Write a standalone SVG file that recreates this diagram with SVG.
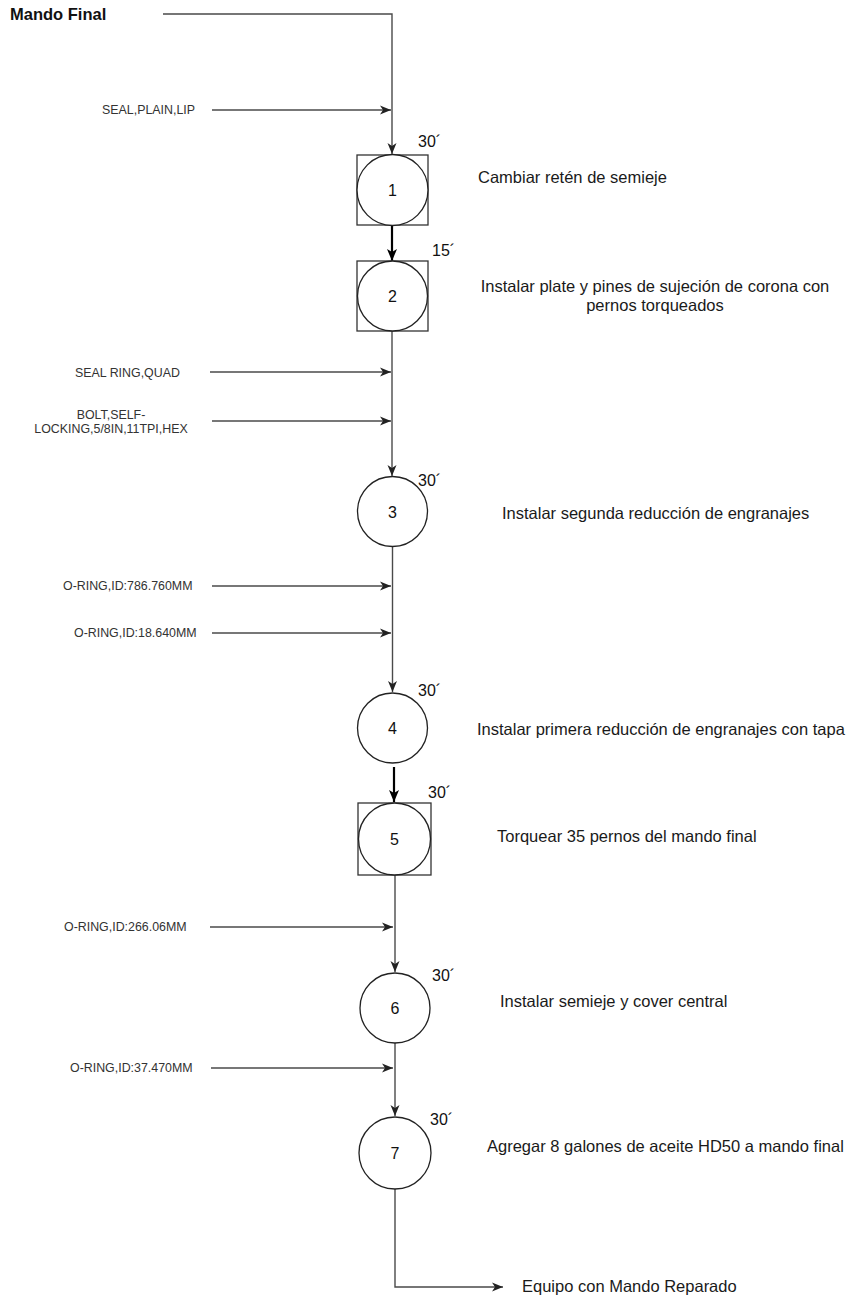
<svg xmlns="http://www.w3.org/2000/svg" width="857" height="1301" viewBox="0 0 857 1301">
  <style>
    .flow { fill: none; stroke: #4a4a4a; stroke-width: 1.4; }
    .flow-strong { fill: none; stroke: #000; stroke-width: 2.2; }
    .shape { fill: #fff; stroke: #222; stroke-width: 1.3; }
    .box { fill: #fff; stroke: #333; stroke-width: 1.3; }
    .num { font-family: "Liberation Sans", Arial, sans-serif; font-size: 16px; fill: #111; text-anchor: middle; }
    .time { font-family: "Liberation Sans", Arial, sans-serif; font-size: 16px; fill: #111; }
    .step { font-family: "Liberation Sans", Arial, sans-serif; font-size: 16.5px; fill: #1a1a1a; }
    .part { font-family: "Liberation Sans", Arial, sans-serif; font-size: 12.4px; fill: #333; }
    .title { font-family: "Liberation Sans", Arial, sans-serif; font-size: 16.5px; font-weight: bold; fill: #111; }
  </style>
  <defs>
    <marker id="arrow" markerUnits="userSpaceOnUse" markerWidth="12" markerHeight="10" refX="11" refY="5" orient="auto">
      <path d="M0,0.5 L11,5 L0,9.5 L3,5 Z" fill="#222"/>
    </marker>
    <marker id="arrow-strong" markerUnits="userSpaceOnUse" markerWidth="13" markerHeight="11" refX="12" refY="5.5" orient="auto">
      <path d="M0,0.5 L12,5.5 L0,10.5 L3,5.5 Z" fill="#000"/>
    </marker>
  </defs>

  <rect width="857" height="1301" fill="#fff"/>

  <!-- connectors -->
  <g id="connectors">
    <path class="flow" d="M163,14 H392 V154" marker-end="url(#arrow)"/>
    <path class="flow" d="M212,110 H391" marker-end="url(#arrow)"/>
    <path class="flow-strong" d="M392,225 V261" marker-end="url(#arrow-strong)"/>
    <path class="flow" d="M392,331 V476" marker-end="url(#arrow)"/>
    <path class="flow" d="M210,372 H391" marker-end="url(#arrow)"/>
    <path class="flow" d="M212,421 H391" marker-end="url(#arrow)"/>
    <path class="flow" d="M392.5,547 V692" marker-end="url(#arrow)"/>
    <path class="flow" d="M212,586 H391" marker-end="url(#arrow)"/>
    <path class="flow" d="M212,633 H391" marker-end="url(#arrow)"/>
    <path class="flow-strong" d="M394,767 V802" marker-end="url(#arrow-strong)"/>
    <path class="flow" d="M395,875 V972" marker-end="url(#arrow)"/>
    <path class="flow" d="M210,927 H393" marker-end="url(#arrow)"/>
    <path class="flow" d="M395,1043 V1116" marker-end="url(#arrow)"/>
    <path class="flow" d="M211,1068 H393" marker-end="url(#arrow)"/>
    <path class="flow" d="M395,1189 V1287 H503" marker-end="url(#arrow)"/>
  </g>

  <!-- start and end labels -->
  <g id="start">
    <text class="title" x="10" y="20">Mando Final</text>
  </g>
  <g id="end">
    <text class="step" x="522" y="1292">Equipo con Mando Reparado</text>
  </g>

  <!-- parts fed into the line -->
  <g id="parts">
    <text class="part" x="102" y="114">SEAL,PLAIN,LIP</text>
    <text class="part" x="75" y="377">SEAL RING,QUAD</text>
    <text class="part" x="111" y="419" text-anchor="middle">BOLT,SELF-</text>
    <text class="part" x="111" y="433" text-anchor="middle">LOCKING,5/8IN,11TPI,HEX</text>
    <text class="part" x="63" y="590">O-RING,ID:786.760MM</text>
    <text class="part" x="74" y="637">O-RING,ID:18.640MM</text>
    <text class="part" x="64" y="931">O-RING,ID:266.06MM</text>
    <text class="part" x="70" y="1072">O-RING,ID:37.470MM</text>
  </g>

  <!-- step 1 -->
  <g id="node-1">
    <rect class="box" x="357" y="155" width="71" height="70"/>
    <circle class="shape" cx="392.5" cy="190" r="35.5"/>
    <text class="num" x="392.5" y="196">1</text>
    <text class="time" x="418" y="147">30´</text>
    <text class="step" x="478" y="183">Cambiar retén de semieje</text>
  </g>

  <!-- step 2 -->
  <g id="node-2">
    <rect class="box" x="357" y="261" width="71" height="70"/>
    <circle class="shape" cx="392.5" cy="296" r="35"/>
    <text class="num" x="392.5" y="302">2</text>
    <text class="time" x="432" y="256">15´</text>
    <text class="step" x="655" y="292" text-anchor="middle">Instalar plate y pines de sujeción de corona con</text>
    <text class="step" x="655" y="311" text-anchor="middle">pernos torqueados</text>
  </g>

  <!-- step 3 -->
  <g id="node-3">
    <circle class="shape" cx="392.5" cy="511.5" r="35"/>
    <text class="num" x="392.5" y="517.5">3</text>
    <text class="time" x="418" y="486">30´</text>
    <text class="step" x="502" y="519">Instalar segunda reducción de engranajes</text>
  </g>

  <!-- step 4 -->
  <g id="node-4">
    <circle class="shape" cx="392.5" cy="728" r="35"/>
    <text class="num" x="392.5" y="734">4</text>
    <text class="time" x="418" y="696">30´</text>
    <text class="step" x="477" y="735">Instalar primera reducción de engranajes con tapa</text>
  </g>

  <!-- step 5 -->
  <g id="node-5">
    <rect class="box" x="358" y="803" width="73" height="72"/>
    <circle class="shape" cx="394.5" cy="839" r="36"/>
    <text class="num" x="394.5" y="845">5</text>
    <text class="time" x="428" y="798">30´</text>
    <text class="step" x="497" y="842">Torquear 35 pernos del mando final</text>
  </g>

  <!-- step 6 -->
  <g id="node-6">
    <circle class="shape" cx="395" cy="1008" r="35"/>
    <text class="num" x="395" y="1014">6</text>
    <text class="time" x="432" y="981">30´</text>
    <text class="step" x="500" y="1007">Instalar semieje y cover central</text>
  </g>

  <!-- step 7 -->
  <g id="node-7">
    <circle class="shape" cx="395" cy="1153" r="36"/>
    <text class="num" x="395" y="1159">7</text>
    <text class="time" x="430" y="1125">30´</text>
    <text class="step" x="487" y="1152">Agregar 8 galones de aceite HD50 a mando final</text>
  </g>
</svg>
